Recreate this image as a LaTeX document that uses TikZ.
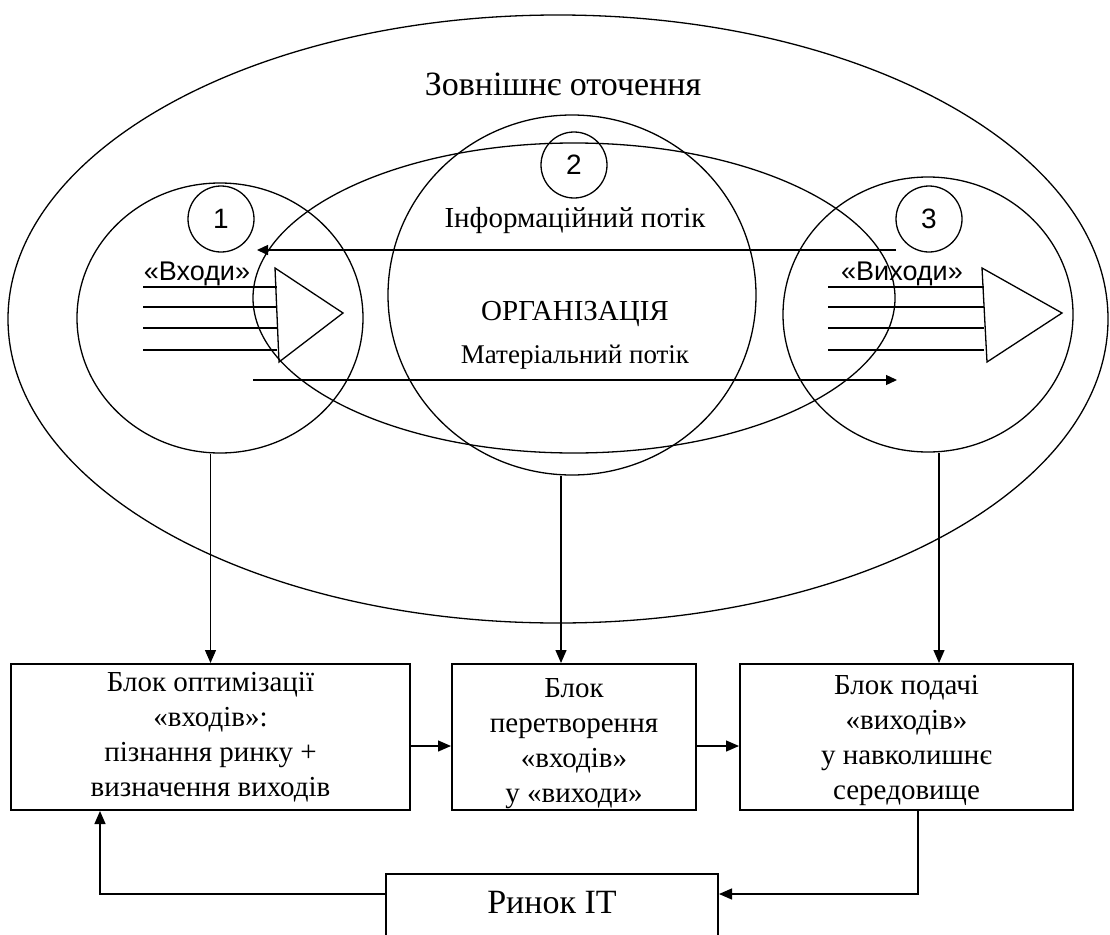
\documentclass[tikz,border=0pt]{standalone}
\usepackage{fontspec}
\setmainfont{Liberation Serif}
\newfontfamily\arialf{Liberation Sans}
\usetikzlibrary{arrows.meta,shapes.geometric}
\tikzset{
  ln/.style={line width=1.3pt, draw=black},
  arr/.style={ln, -{Triangle[length=13pt,width=11pt]}},
  smarr/.style={ln, -{Triangle[length=11pt,width=10pt]}},
  oval/.style={ellipse, draw=black, line width=1.3pt, inner sep=0pt},
  numc/.style={circle, draw=black, line width=1.3pt, inner sep=0pt, minimum size=66pt, font=\arialf\fontsize{28}{30}\selectfont},
  blk/.style={rectangle, draw=black, line width=2pt, inner sep=0pt},
  blktxt/.style={align=center, font=\fontsize{29}{35}\selectfont, inner sep=0pt},
  stxt/.style={font=\arialf\fontsize{27}{30}\selectfont, inner sep=0pt, anchor=base},
  ttxt/.style={inner sep=0pt, anchor=base},
}
\begin{document}
\begin{tikzpicture}[x=1pt, y=-1pt]
\useasboundingbox[fill=white] (0,0) rectangle (1110,934);

% ellipses
\node[oval, minimum width=1100pt, minimum height=608pt] (env) at (558,319) {};
\node[oval, minimum width=642pt, minimum height=310pt] (org) at (574,298) {};
\node[oval, minimum width=368pt, minimum height=360pt] (c2) at (572,295) {};
\node[oval, minimum width=286pt, minimum height=270pt] (c1) at (220,318) {};
\node[oval, minimum width=290pt, minimum height=275pt] (c3) at (928,314.5) {};

% numbered circles
\node[numc] (n1) at (221,219) {1};
\node[numc] (n2) at (574,165) {2};
\node[numc] (n3) at (929,219) {3};

% texts
\node[ttxt, font=\fontsize{34}{40}\selectfont] (tenv) at (563,95) {Зовнішнє оточення};
\node[ttxt, font=\fontsize{29}{34}\selectfont] (tinfo) at (575,227) {Інформаційний потік};
\node[ttxt, font=\fontsize{29}{34}\selectfont] (torg) at (575,320) {ОРГАНІЗАЦІЯ};
\node[ttxt, font=\fontsize{27}{32}\selectfont] (tmat) at (575,363) {Матеріальний потік};
\node[stxt] (tin) at (197,280) {«Входи»};
\node[stxt] (tout) at (902,280) {«Виходи»};

% input bundle
\foreach \yy in {287,307,328,350} \draw[ln] (143,\yy) -- (277,\yy);
\draw[ln] (275,268) -- (343,313) -- (279,362) -- cycle;
% output bundle
\foreach \yy in {287,307,328,350} \draw[ln] (828,\yy) -- (984,\yy);
\draw[ln] (982,268) -- (1062,313) -- (987,362) -- cycle;

% flows
\coordinate (infoS) at (896,250);
\coordinate (infoE) at (257,250);
\draw[smarr] (infoS) -- (infoE);
\coordinate (matS) at (253,380);
\coordinate (matE) at (897,380);
\draw[smarr] (matS) -- (matE);

% blocks
\node[blk, minimum width=399pt, minimum height=146pt] (b1) at (210.5,737) {};
\node[blktxt] (t1) at (b1.center) {Блок оптимізації\\«входів»:\\пізнання ринку +\\визначення виходів};
\node[blk, minimum width=244pt, minimum height=146pt] (b2) at (574,737) {};
\node[blktxt, yshift=-7pt] (t2) at (b2.center) {Блок\\перетворення\\«входів»\\у «виходи»};
\node[blk, minimum width=333pt, minimum height=146pt] (b3) at (906.5,737) {};
\node[blktxt, yshift=-3pt] (t3) at (b3.center) {Блок подачі\\«виходів»\\у навколишнє\\середовище};
\node[blk, minimum width=332pt, minimum height=86pt] (rn) at (552,917) {};
\node[ttxt, font=\fontsize{34}{40}\selectfont] (trn) at (552,913) {Ринок IT};

% connectors
\draw[arr] (b1.north |- c1.south) -- (b1.north);
\draw[arr] ([xshift=-11pt]c2.south) -- ([xshift=-11pt]c2.south |- b2.north);
\draw[arr] ([xshift=11pt]c3.south) -- ([xshift=11pt]c3.south |- b3.north);
\draw[arr] ([yshift=-9pt]b1.east) -- ([yshift=-9pt]b1.east -| b2.west);
\draw[arr] ([yshift=-9pt]b2.east) -- ([yshift=-9pt]b2.east -| b3.west);
\draw[arr] ([xshift=11.5pt]b3.south) |- ([yshift=23pt]rn.east);
\draw[arr] ([yshift=23pt]rn.west) -| ([xshift=-110.5pt]b1.south);
\end{tikzpicture}
\end{document}
